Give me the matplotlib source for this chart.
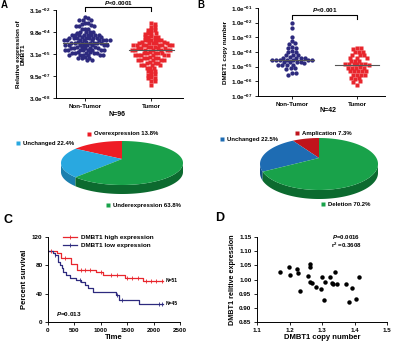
import numpy as np
import matplotlib.pyplot as plt
from matplotlib.lines import Line2D

plt.rcParams['font.family'] = 'Liberation Sans'
plt.rcParams['font.weight'] = 'bold'
plt.rcParams['axes.labelweight'] = 'bold'
plt.rcParams['mathtext.fontset'] = 'custom'
plt.rcParams['mathtext.rm'] = 'Liberation Sans:bold'
plt.rcParams['mathtext.it'] = 'Liberation Sans:italic:bold'

# ---- data ----
# A: relative expression (log10), N=96 paired samples
a_nontumor = [-2.02, -2.05, -2.17, -2.20, -2.21, -2.40, -2.43, -2.44, -2.56, -2.58, -2.60, -2.59,
              -2.80, -2.82, -2.83, -3.01, -3.03, -3.04, -3.02, -3.05,
              -3.20, -3.22, -3.23, -3.21, -3.24, -3.22, -3.20, -3.25,
              -3.38, -3.40, -3.41, -3.39, -3.42, -3.40, -3.37, -3.43, -3.41,
              -3.55, -3.56, -3.58, -3.54, -3.57, -3.56, -3.59, -3.55, -3.57,
              -3.72, -3.74, -3.75, -3.73, -3.76, -3.74, -3.71, -3.77, -3.75,
              -3.88, -3.90, -3.91, -3.89, -3.92, -3.90, -3.87, -3.93,
              -4.06, -4.08, -4.09, -4.07, -4.10, -4.08, -4.05, -4.11,
              -4.22, -4.24, -4.25, -4.23, -4.26, -4.24, -4.21, -4.27,
              -4.41, -4.43, -4.44, -4.42, -4.45, -4.43, -4.40,
              -4.56, -4.58, -4.59, -4.57, -4.60, -4.58, -4.75, -4.77, -4.78, -4.79, -4.92, -4.95]
a_tumor = [-2.41, -2.44, -2.64, -2.67, -2.86, -2.88, -2.90, -3.08, -3.10, -3.11, -3.12,
           -3.31, -3.33, -3.34, -3.32, -3.35, -3.54, -3.56, -3.57, -3.55, -3.58, -3.56,
           -3.72, -3.74, -3.75, -3.73, -3.76, -3.74, -3.71,
           -3.88, -3.90, -3.91, -3.89, -3.92, -3.90, -3.87, -3.93,
           -4.06, -4.08, -4.09, -4.07, -4.10, -4.08, -4.05,
           -4.22, -4.24, -4.25, -4.23, -4.26, -4.24, -4.21,
           -4.41, -4.43, -4.44, -4.42, -4.45, -4.43, -4.56, -4.58, -4.59, -4.57, -4.60, -4.58,
           -4.75, -4.77, -4.78, -4.76, -4.79, -4.91, -4.93, -4.94, -4.92, -4.95,
           -5.09, -5.11, -5.12, -5.13, -5.25, -5.27, -5.28, -5.29, -5.44, -5.45, -5.47,
           -5.66, -5.68, -5.70, -5.89, -5.90, -5.92, -6.12, -6.13, -6.15, -6.35, -6.38, -6.63]
a_yticks = [3.0e-8, 9.5e-7, 3.1e-5, 9.8e-4, 3.1e-2]
a_ylabels = ['3.0e$^{-08}$', '9.5e$^{-07}$', '3.1e$^{-05}$', '9.8e$^{-04}$', '3.1e$^{-02}$']

# B: DMBT1 copy number (log10), N=42
b_nontumor = [-2.05, -2.39, -2.96, -3.25, -3.40, -3.43, -3.68, -3.70, -3.72, -3.96, -3.98, -4.00,
              -4.18, -4.20, -4.22, -4.37, -4.39, -4.40, -4.41, -4.38,
              -4.52, -4.54, -4.55, -4.53, -4.56, -4.54, -4.57, -4.68, -4.70, -4.71, -4.69, -4.72,
              -4.87, -4.89, -4.90, -4.91, -5.09, -5.11, -5.13, -5.44, -5.46, -5.57]
b_tumor = [-3.74, -3.75, -3.77, -3.97, -3.98, -4.00, -4.19, -4.20, -4.22, -4.38, -4.39, -4.41,
           -4.60, -4.61, -4.63, -4.82, -4.84, -4.85, -4.83, -4.86, -4.84, -4.81,
           -5.05, -5.07, -5.08, -5.06, -5.09, -5.27, -5.29, -5.30, -5.28, -5.31,
           -5.55, -5.57, -5.58, -5.59, -5.78, -5.79, -5.81, -6.01, -6.03, -6.25]
b_yticks = [1e-7, 1e-6, 1e-5, 1e-4, 1e-3, 1e-2, 1e-1]
b_ylabels = ['1.0e$^{-%02d}$' % k for k in range(7, 0, -1)]

groups = ['Non-Tumor', 'Tumor']

# pies
pieA_labels = ['Overexpression 13.8%', 'Unchanged 22.4%', 'Underexpression 63.8%']
pieA_pct = [13.8, 22.4, 63.8]
pieB_labels = ['Amplication 7.3%', 'Unchanged 22.5%', 'Deletion 70.2%']
pieB_pct = [7.3, 22.5, 70.2]

# C: survival
high_t = [0, 170, 250, 430, 540, 900, 1050, 1450, 1800, 2180]
high_s = [100, 97, 90, 82, 73, 70, 66, 62, 58, 58]
high_cens = [60, 330, 620, 700, 800, 1000, 1200, 1300, 1500, 1600, 1700, 1850, 1950, 2050, 2150]
low_t = [0, 90, 130, 190, 230, 260, 290, 350, 420, 530, 620, 700, 760, 850, 1290, 1350, 1730, 2180]
low_s = [100, 97, 94, 85, 80, 76, 71, 66, 62, 59, 56, 52, 48, 43, 38, 31, 26, 26]
low_cens = [130, 600, 1300, 1400, 2100, 2160]

# D: copy number vs expression
d_copy = [1.172, 1.199, 1.202, 1.223, 1.226, 1.233, 1.256, 1.263, 1.263, 1.263, 1.269, 1.281,
          1.297, 1.299, 1.306, 1.309, 1.325, 1.330, 1.335, 1.340, 1.347, 1.374, 1.383, 1.391,
          1.404, 1.414]
d_expr = [1.028, 1.043, 1.016, 1.036, 1.024, 0.960, 1.012, 1.055, 1.045, 0.992, 0.987, 0.975,
          0.966, 1.010, 0.926, 0.991, 1.008, 0.987, 0.984, 1.025, 0.983, 0.983, 0.922, 0.969,
          0.931, 1.010]

BLUE = '#2d2a7e'
RED = '#e8262d'
W, H = 395, 344

fig = plt.figure(figsize=(W / 100, H / 100), dpi=100)
ov = fig.add_axes([0, 0, 1, 1])
ov.set_xlim(0, W)
ov.set_ylim(H, 0)
ov.axis('off')


def box(l, t, r, b):
    return [l / W, 1 - b / H, (r - l) / W, (b - t) / H]


def swarm(logv, ppd, ppu, diam):
    y = np.asarray(logv) * ppd
    c = np.arange(0.25, 40, 0.25)
    cand = np.r_[0, np.ravel(np.c_[c, -c])]
    px, py = [], []
    out = np.zeros(len(y))
    for i in np.argsort(-y):
        for x in cand:
            if all((x - a) ** 2 + (y[i] - b) ** 2 >= diam ** 2 for a, b in zip(px, py)):
                break
        out[i] = x
        px.append(x)
        py.append(y[i])
    return out / ppu


def style(ax):
    for s in ['top', 'right']:
        ax.spines[s].set_visible(False)
    for s in ['left', 'bottom']:
        ax.spines[s].set_linewidth(0.7)
    ax.tick_params(length=2.5, width=0.6, labelsize=4.5, pad=1.5)


def dotplot(ax, v0, v1, yl, ticks, labels, hpx, ptxt, bar_y, diam):
    ax.set_yscale('log')
    ax.set_ylim(*yl)
    ppd = hpx / np.log10(yl[1] / yl[0])
    ppu = 66.0
    x0 = swarm(v0, ppd, ppu, diam)
    x1 = swarm(v1, ppd, ppu, diam)
    ax.plot(0 + x0, 10 ** np.array(v0), 'o', color=BLUE, ms=3.1, mec='none', clip_on=False)
    ax.plot(1 + x1, 10 ** np.array(v1), 's', color=RED, ms=2.8, mec='none', clip_on=False)
    for k, v in enumerate([v0, v1]):
        m = 10 ** np.median(v)
        ax.plot([k - 0.34, k + 0.34], [m, m], color='#555555', lw=0.8, zorder=5)
    ax.set_yticks(ticks)
    ax.set_yticklabels(labels)
    ax.yaxis.set_minor_locator(plt.NullLocator())
    ax.set_xticks([0, 1])
    ax.set_xticklabels(groups, fontsize=5)
    style(ax)
    tr = ax.get_xaxis_transform()
    ax.plot([0, 0, 1, 1], [bar_y - 3.5 / hpx, bar_y, bar_y, bar_y - 3.5 / hpx], color='black',
            lw=0.8, transform=tr, clip_on=False)
    ax.text(0.5, bar_y + 0.6 / hpx, ptxt, transform=tr, ha='center', va='bottom', fontsize=4.6)


# ---- A ----
axA = fig.add_axes(box(56, 10, 183, 98))
axA.set_xlim(-0.44, 1.48)
dotplot(axA, a_nontumor, a_tumor, (3.0e-8, 3.1e-2), a_yticks, a_ylabels, 88,
        '$\\it{P}$<0.0001', 1 + 2.8 / 88, 3.2)
axA.set_ylabel('Relative expression of\nDMBT1', fontsize=4.6, labelpad=2, linespacing=1.1)
ov.text(117, 114, 'N=96', ha='center', va='center', fontsize=5)

# ---- B ----
axB = fig.add_axes(box(258, 8, 385, 96))
axB.set_xlim(-0.52, 1.43)
dotplot(axB, b_nontumor, b_tumor, (1e-7, 1e-1), b_yticks, b_ylabels, 88,
        '$\\it{P}$<0.001', 1 - 7 / 88, 3.8)
axB.set_ylabel('DMBT1 copy number', fontsize=4.6, labelpad=2)
ov.text(328, 111, 'N=42', ha='center', va='center', fontsize=5)


# ---- pies ----
def pie3d(pct, tops, sides, cx, cy, a, b, depth, apex_dy):
    ang = 90 + 360 * np.cumsum([0] + pct) / 100.0
    for i in range(len(pct)):
        th = np.radians(np.linspace(ang[i], ang[i + 1], 300))
        th = th[np.sin(th) <= 0]
        if len(th):
            xs = cx + a * np.cos(th)
            ys = cy - b * np.sin(th)
            ov.fill(np.r_[xs, xs[::-1]], np.r_[ys, ys[::-1] + depth], color=sides[i], lw=0)
    for i in range(len(pct)):
        th = np.radians(np.linspace(ang[i], ang[i + 1], 300))
        ov.fill(np.r_[cx, cx + a * np.cos(th)], np.r_[cy + apex_dy, cy - b * np.sin(th)],
                color=tops[i], lw=0)


def pie_labels(labels, colors, pos):
    for lab, c, (x, y) in zip(labels, colors, pos):
        ov.plot(x, y, 's', color=c, ms=2.6, mec='none')
        ov.text(x + 5, y, lab, ha='left', va='center', fontsize=4.3)


colsA = ['#ee1c25', '#29a8e0', '#19a24a']
pie3d(pieA_pct, colsA, ['#b5141b', '#1b7fae', '#0c6a2f'], 122, 163, 61, 22, 9, -4)
pie_labels(pieA_labels, colsA, [(89, 134), (18, 143), (108, 205)])

colsB = ['#c0141c', '#1e6cb3', '#19a24a']
pie3d(pieB_pct, colsB, ['#8e0f14', '#154f86', '#0c6a2f'], 319, 164, 59, 26, 9, -6)
pie_labels(pieB_labels, colsB, [(297, 133), (222, 139), (323, 204)])

# ---- C ----
axC = fig.add_axes(box(48, 237, 180, 322))
axC.step(high_t, high_s, where='post', color=RED, lw=0.9)
axC.step(low_t, low_s, where='post', color=BLUE, lw=0.9)
for t, s, cens, c in [(high_t, high_s, high_cens, RED), (low_t, low_s, low_cens, BLUE)]:
    idx = np.searchsorted(t, cens, side='right') - 1
    axC.plot(cens, np.array(s)[idx], '|', color=c, ms=2.5, mew=0.6)
axC.set_xlim(0, 2500)
axC.set_ylim(0, 120)
axC.set_xticks(range(0, 2501, 500))
axC.set_yticks([0, 40, 80, 120])
style(axC)
axC.set_xlabel('Time', fontsize=5.5, labelpad=1)
axC.set_ylabel('Percent survival', fontsize=5.5, labelpad=3)
hnd = [Line2D([], [], color=RED, lw=0.9, marker='|', ms=2.5, mew=0.6),
       Line2D([], [], color=BLUE, lw=0.9, marker='|', ms=2.5, mew=0.6)]
axC.legend(hnd, ['DMBT1 high expression', 'DMBT1 low expression'], loc='upper left',
           bbox_to_anchor=(0.08, 1.08), frameon=False, fontsize=4.6, handlelength=2.2,
           labelspacing=0.45, borderpad=0.2, handletextpad=0.6)
axC.text(high_t[-1] + 50, high_s[-1], 'N=51', fontsize=3.6, va='center')
axC.text(low_t[-1] + 50, low_s[-1], 'N=45', fontsize=3.6, va='center')
axC.text(150, 12, '$\\it{P}$=0.013', fontsize=4.6, va='center')

# ---- D ----
axD = fig.add_axes(box(257, 237, 387, 322))
axD.plot(d_copy, d_expr, 'o', color='black', ms=3.2, mec='none')
axD.set_xlim(1.1, 1.5)
axD.set_ylim(0.85, 1.15)
axD.set_xticks(np.arange(1.1, 1.51, 0.1))
axD.set_xticklabels(['%.1f' % v for v in np.arange(1.1, 1.51, 0.1)])
axD.set_yticks(np.arange(0.85, 1.151, 0.05))
axD.set_yticklabels(['%.2f' % v for v in np.arange(0.85, 1.151, 0.05)])
style(axD)
axD.set_xlabel('DMBT1 copy number', fontsize=5.5, labelpad=1)
axD.set_ylabel('DMBT1 relitive expression', fontsize=5.2, labelpad=2)
axD.text(1.375, 1.15, '$\\it{P}$=0.0016', fontsize=4.4, ha='center', va='center')
axD.text(1.375, 1.122, 'r$^{2}$ =0.3608', fontsize=4.4, ha='center', va='center')

# panel letters
ov.text(1, 0, 'A', fontsize=7, va='top')
ov.text(197, 0, 'B', fontsize=7, va='top')
ov.text(3, 220, 'C', fontsize=9, va='center')
ov.text(215, 218, 'D', fontsize=9, va='center')

fig.savefig('out.png', dpi=100)
